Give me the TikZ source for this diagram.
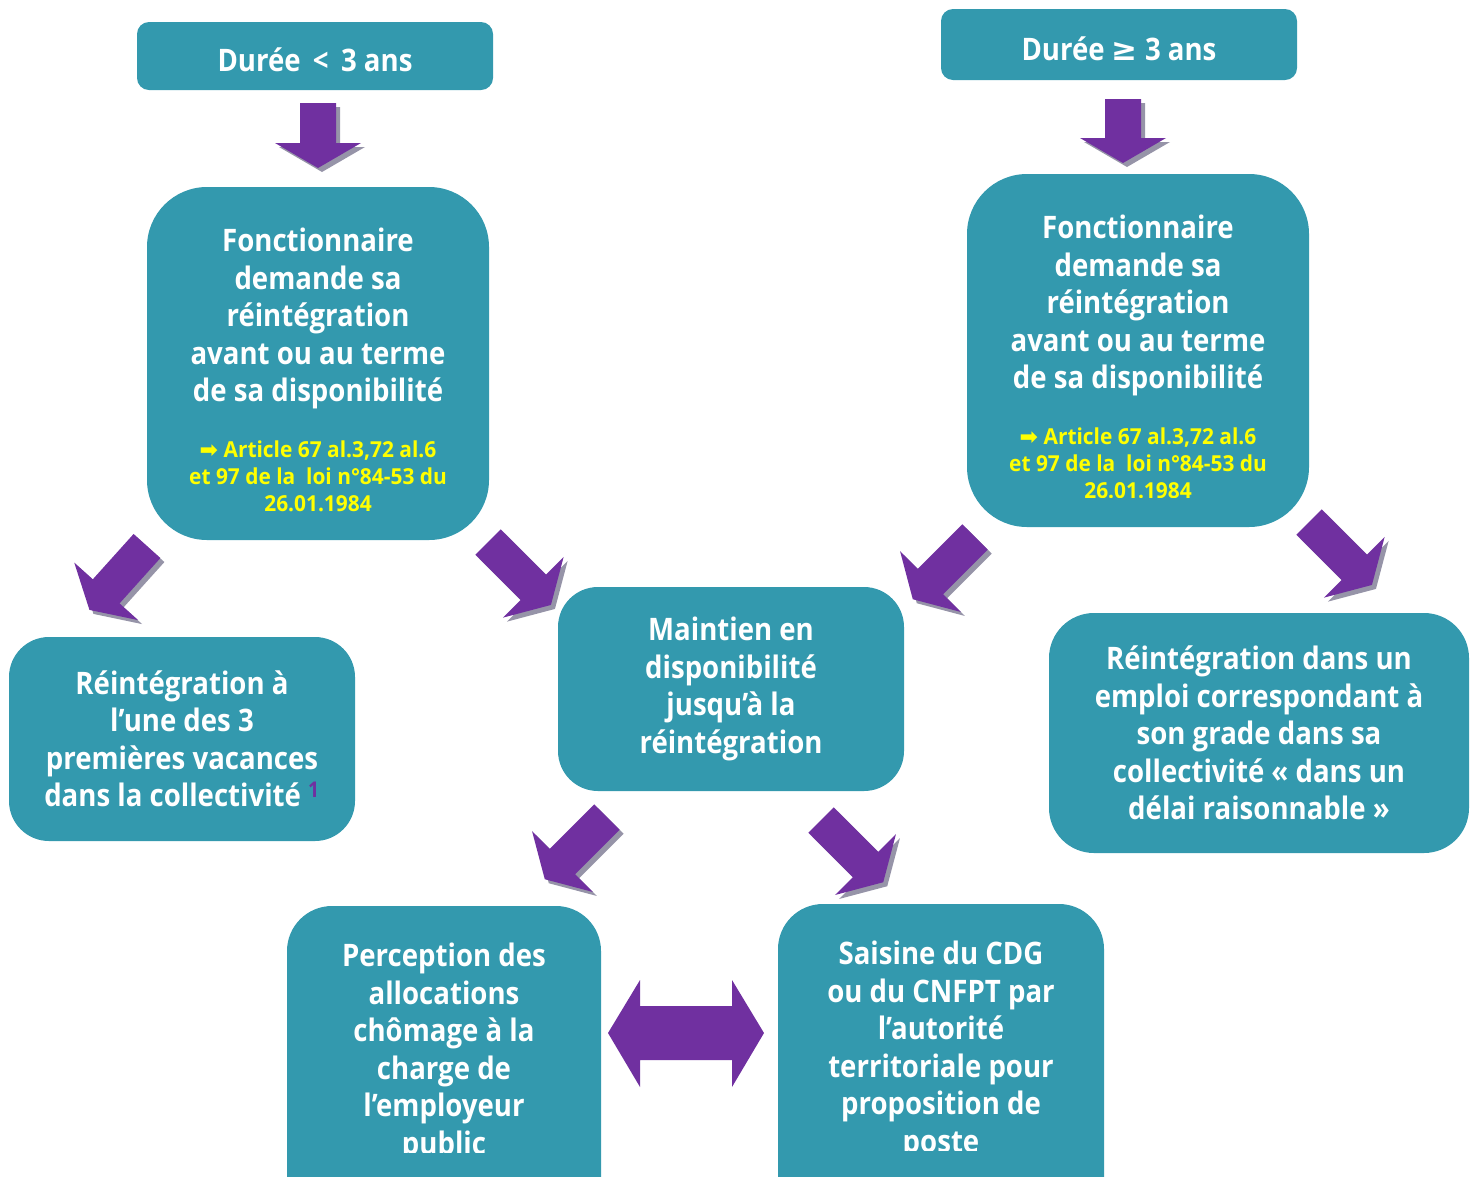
\documentclass[tikz,border=0pt]{standalone}
\usepackage{fontspec}
\setmainfont[FakeStretch=0.89]{Open Sans}
\newfontfamily\reffont[FakeStretch=0.95]{Open Sans}
\newfontfamily\symbfont{DejaVu Sans}
\usepackage{tikz}
\usetikzlibrary{positioning}

\definecolor{boxteal}{RGB}{51,153,174}
\definecolor{arrowpurple}{RGB}{112,48,160}
\definecolor{arrowshade}{RGB}{150,148,168}
\definecolor{refyellow}{RGB}{255,255,0}

\tikzset{
  box/.style={fill=boxteal, rounded corners=#1, inner sep=0pt, text=white, align=center,
    font=\bfseries\fontsize{31}{37.5}\selectfont},
  txt/.style={inner sep=0pt, text=white, align=center, font=\bfseries\fontsize{31}{37.5}\selectfont},
  ref/.style={inner sep=0pt, text=refyellow, align=center, font=\reffont\bfseries\fontsize{22}{27}\selectfont}
}

% block arrow: tail point, angle, length
\newcommand{\blockarrow}[3]{%
  \foreach \off/\col in {4/arrowshade,0/arrowpurple}
    \fill[\col,shift={(#1)},shift={(\off,\off)},rotate=#2]
      (0,18) -- (#3-25,18) -- (#3-25,43) -- (#3,0) -- (#3-25,-43) -- (#3-25,-18) -- (0,-18) -- cycle;
}

\begin{document}
\begin{tikzpicture}[x=1pt,y=-1pt]
  \useasboundingbox (0,0) rectangle (1477,1176);

  \node[box=12, minimum width=356pt, minimum height=68pt, text height=32pt] (d1) at (315,56) {Durée \,<\, 3 ans};
  \node[box=12, minimum width=356pt, minimum height=71pt, text height=32pt] (d2) at (1119,44.5) {Durée {\symbfont ≥} 3 ans};

  \node[box=60, minimum width=342pt, minimum height=353pt] (f1) at (318,363.5) {};
  \node[box=60, minimum width=342pt, minimum height=353pt] (f2) at (1138,350.5) {};
  \node[txt, anchor=north] (f1t) at (318,228) {Fonctionnaire\\demande sa\\réintégration\\avant ou au terme\\de sa disponibilité};
  \node[txt, anchor=north] (f2t) at (1138,215) {Fonctionnaire\\demande sa\\réintégration\\avant ou au terme\\de sa disponibilité};
  \begin{scope}
    \clip (147,420) rectangle (489,511);
    \node[ref, below=31pt of f1t] (f1r) {{\symbfont\fontsize{22}{27}\selectfont ➡} Article 67 al.3,72 al.6\\et 97 de la\ \ loi n°84-53 du\\26.01.1984};
  \end{scope}
  \begin{scope}
    \clip (967,407) rectangle (1309,497);
    \node[ref, below=31pt of f2t] (f2r) {{\symbfont\fontsize{22}{27}\selectfont ➡} Article 67 al.3,72 al.6\\et 97 de la\ \ loi n°84-53 du\\26.01.1984};
  \end{scope}

  \node[box=40, minimum width=346pt, minimum height=204pt] (r1) at (182,739)
    {Réintégration à\\l’une des 3\\premières vacances\\dans la collectivité \textsuperscript{\color{arrowpurple}1}};
  \node[box=40, minimum width=346pt, minimum height=204pt] (m) at (731,689)
    {Maintien en\\disponibilité\\jusqu’à la\\réintégration};
  \node[box=45, minimum width=420pt, minimum height=240pt] (r2) at (1259,733)
    {Réintégration dans un\\emploi correspondant à\\son grade dans sa\\collectivité « dans un\\délai raisonnable »};

  \node[box=45, minimum width=314pt, minimum height=320pt] (p) at (444,1066) {};
  \node[box=45, minimum width=326pt, minimum height=320pt] (s) at (941,1064) {};
  \begin{scope}
    \clip (287,906) rectangle (601,1152);
    \node[txt, anchor=north] (pt) at (444,943) {Perception des\\allocations\\chômage à la\\charge de\\l’employeur\\public};
  \end{scope}
  \begin{scope}
    \clip (778,904) rectangle (1104,1150);
    \node[txt, anchor=north] (st) at (941,941) {Saisine du CDG\\ou du CNFPT par\\l’autorité\\territoriale pour\\proposition de\\poste};
  \end{scope}

  \blockarrow{318,103}{-90}{65}
  \blockarrow{1123,99}{-90}{64}
  \blockarrow{147,546}{-132}{86}
  \blockarrow{488,542}{-45}{89}
  \blockarrow{975,537}{-135}{88}
  \blockarrow{1309,522}{-45}{89}
  \blockarrow{607,817}{-135}{88}
  \blockarrow{821,820}{-45}{88}

  \fill[arrowpurple] (608,1033) -- (640,980) -- (640,1006) -- (732,1006) -- (732,980) -- (764,1033)
    -- (732,1087) -- (732,1060) -- (640,1060) -- (640,1087) -- cycle;
\end{tikzpicture}
\end{document}
